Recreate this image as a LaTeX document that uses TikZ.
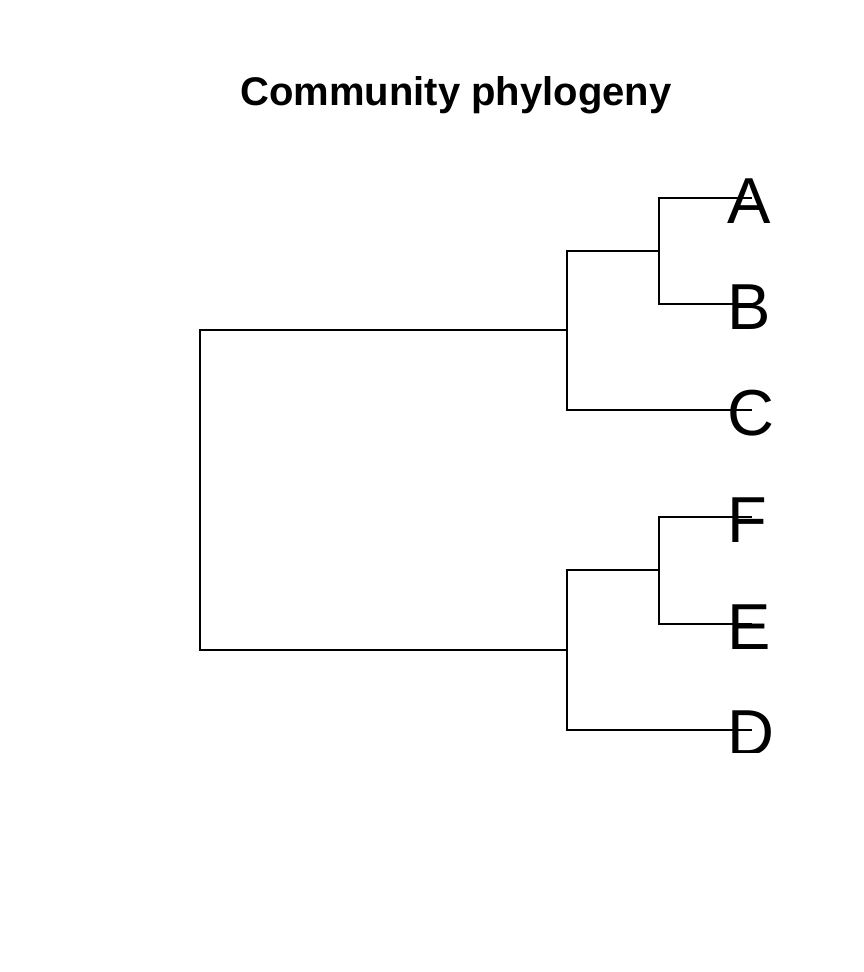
\documentclass[tikz,border=0pt]{standalone}
\usepackage{fontspec}
\setmainfont{Liberation Sans}
\begin{document}
\begin{tikzpicture}[x=1pt,y=-1pt,
  branch/.style={line width=1.8pt,black},
  tiplabel/.style={anchor=base west,inner sep=0pt,font=\fontsize{65}{65}\selectfont},
  titlestyle/.style={anchor=base,inner sep=0pt,font=\fontsize{40}{40}\selectfont\bfseries}]
\useasboundingbox[fill=white] (0,0) rectangle (864,972);
\node[titlestyle] (title) at (456,105) {Community phylogeny};
% internal nodes
\coordinate (r) at (200,490);
\coordinate (c1) at (567,330);
\coordinate (c2) at (567,650);
\coordinate (ab) at (659,251);
\coordinate (fe) at (659,570);
% tips
\coordinate (tA) at (752,198);
\coordinate (tB) at (752,304);
\coordinate (tC) at (752,410);
\coordinate (tF) at (752,517);
\coordinate (tE) at (752,624);
\coordinate (tD) at (752,730);
% branches
\draw[branch] (r) |- (c1);
\draw[branch] (r) |- (c2);
\draw[branch] (c1) |- (ab);
\draw[branch] (c1) |- (tC);
\draw[branch] (ab) |- (tA);
\draw[branch] (ab) |- (tB);
\draw[branch] (c2) |- (fe);
\draw[branch] (c2) |- (tD);
\draw[branch] (fe) |- (tF);
\draw[branch] (fe) |- (tE);
% labels
\begin{scope}
\clip (0,0) rectangle (864,752);
\node[tiplabel] (lA) at (727,223) {A};
\node[tiplabel] (lB) at (727,329) {B};
\node[tiplabel] (lC) at (727,435) {C};
\node[tiplabel] (lF) at (727,542) {F};
\node[tiplabel] (lE) at (727,649) {E};
\node[tiplabel] (lD) at (727,755) {D};
\end{scope}
\end{tikzpicture}
\end{document}
